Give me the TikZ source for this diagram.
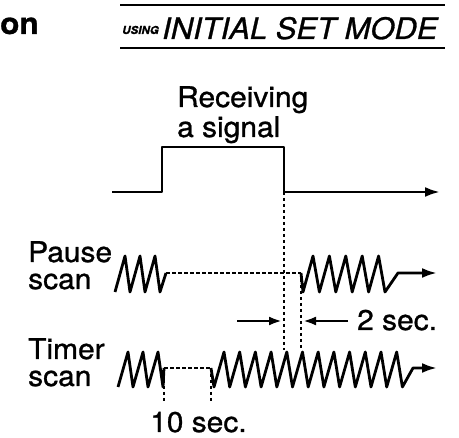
\documentclass[tikz,border=0pt]{standalone}
\usepackage{fontspec}
\setmainfont{TeX Gyre Heros}[FakeStretch=1.05, FakeBold=1]
\usetikzlibrary{arrows.meta}

\tikzset{
  lbl/.style={font=\fontsize{28.5}{27}\selectfont, inner sep=0pt},
  wave/.style={line width=2.8pt, line join=round},
  guide/.style={line width=1.8pt, dash pattern=on 3.5pt off 2.5pt},
  tip/.style={-{Latex[length=15pt,width=10pt]}},
  rule/.style={line width=2.6pt}
}

\begin{document}
\begin{tikzpicture}[x=1pt, y=-1pt]
\useasboundingbox (0,0) rectangle (459,438);

% header
\node[lbl, font=\fontsize{30}{30}\bfseries, anchor=base west] (on) at (0,34) {on};
\node[inner sep=0pt, font=\fontsize{11}{11}\bfseries\itshape, anchor=base west] (using) at (122,34) {USING};
\node[lbl, font=\fontsize{29.5}{29.5}\itshape, anchor=base west] (mode) at (162,39) {INITIAL SET MODE};
\draw[rule] (120,5) -- (445,5);
\draw[rule] (120,48) -- (445,48);

% labels (base = last line)
\node[lbl, font=\fontsize{28.5}{30}\selectfont, align=left, anchor=base west] (recv) at (177,137) {Receiving\\a signal};
\node[lbl, align=left, anchor=base west] (pause) at (28,289) {Pause\\scan};
\node[lbl, align=left, anchor=base west] (timer) at (28,386) {Timer\\scan};
\node[lbl, anchor=base west] (two) at (357,330) {2 sec.};
\node[lbl, anchor=base west] (ten) at (150,432) {10 sec.};

% signal
\coordinate (s0) at (112,192);
\coordinate (s1) at (162,192);
\coordinate (s2) at (162,147);
\coordinate (s3) at (284,147);
\coordinate (s4) at (284,192);
\coordinate (s5) at (440,192);
\draw[wave, tip] (s0) -- (s1) -- (s2) -- (s3) -- (s4) -- (s5);

% pause scan
\coordinate (p0) at (115,292);
\coordinate (pA) at (166,273);
\coordinate (pB) at (301,273);
\coordinate (pC) at (398,273);
\coordinate (pE) at (437,273);
\draw[wave] (p0) foreach \i in {1,...,3} { -- ++(10,-36) -- ++(5,36) } -- (pA);
\draw[wave, tip] (pB) -- ++(2,19) foreach \i in {1,...,5} { -- ++(10,-36) -- ++(6.4,36) } -- (pC) -- (pE);

% timer scan
\coordinate (t0) at (118,387);
\coordinate (tA) at (164,368);
\coordinate (tB) at (211,368);
\coordinate (tC) at (413,368);
\coordinate (tE) at (437,368);
\draw[wave] (t0) foreach \i in {1,...,3} { -- ++(10,-35) -- ++(5,35) } -- (tA);
\draw[wave, tip] (tB) -- ++(3,19) foreach \i in {1,...,12} { -- ++(10,-35) -- ++(5.7,35) } -- (tC) -- (tE);

% guides
\coordinate (d1) at (284,350);
\coordinate (d2) at (301,350);
\coordinate (t1) at (164,402);
\coordinate (t2) at (211,402);
\draw[guide] (s4) -- (d1);
\draw[guide] (pB) -- (d2);
\draw[guide] (pA) -- (pB);
\draw[guide] (tA) -- (tB);
\draw[guide] (tA) -- (t1);
\draw[guide] (tB) -- (t2);

% 2 sec. arrows
\coordinate (a1) at (237,321);
\coordinate (a2) at (282,321);
\coordinate (b1) at (348,321);
\coordinate (b2) at (303,321);
\draw[rule, -{Latex[length=13pt,width=9pt]}] (a1) -- (a2);
\draw[rule, -{Latex[length=13pt,width=9pt]}] (b1) -- (b2);
\end{tikzpicture}
\end{document}
